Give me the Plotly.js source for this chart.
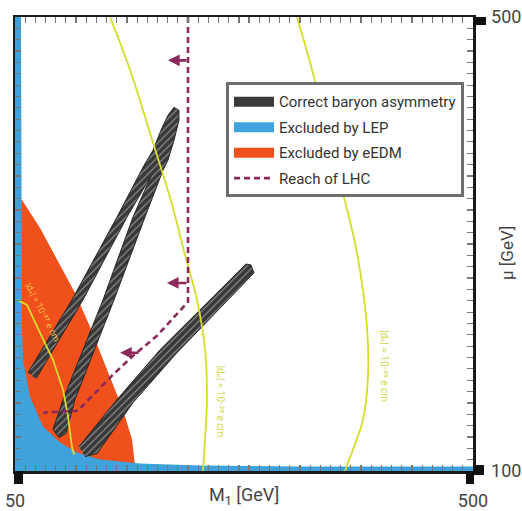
<!DOCTYPE html>
<html><head><meta charset="utf-8">
<script src="https://cdn.plot.ly/plotly-3.0.1.min.js"></script>
<style>html,body{margin:0;padding:0;background:#fff}#chart{width:522px;height:511px}</style>
</head><body><div id="chart"></div>
<script>
// ---- axes ----
const xRange = [50, 500];
const yRange = [100, 500];
const xLabelVals = [50, 500];
const xLabelText = ['50', '500'];
const yLabelVals = [100, 500];
const yLabelText = ['100', '500'];
const tickStep = 10;

// ---- Excluded by LEP (M1 [GeV], mu [GeV]) ----
const lepM1 = [50, 55.9, 56.9, 57.9, 64.7, 77.5, 94.2, 110.9, 133.5, 172.8, 231.8, 330, 500, 500, 50];
const lepMu = [500, 500, 224.4, 198.0, 165.5, 139.1, 125.1, 116.3, 110.1, 106.6, 104.8, 103.9, 103.9, 100, 100];

// ---- Excluded by eEDM ----
const edmM1 = [50, 56.9, 74.6, 91.3, 109.0, 123.7, 143.3, 156.1, 165.0, 167.9, 168.5, 50];
const edmMu = [338.7, 338.7, 314.1, 286.0, 256.9, 227.0, 183.1, 154.0, 127.7, 105.7, 100, 100];

// ---- Correct baryon asymmetry: forked band ----
const forkM1 = [62.8, 106.0, 150.2, 175.8, 185.6, 193.4, 200.3, 206.2, 211.1, 211.1, 206.2, 200.3, 195.4, 177.7, 147.3, 108.9, 100.1, 93.2, 87.3, 97.2, 136.5, 165.9, 183.6, 160.0, 116.8, 76.5, 70.6];
const forkMu = [186.6, 250.8, 323.7, 367.7, 382.6, 400.2, 413.4, 420.4, 417.8, 409.0, 391.4, 373.9, 365.0, 323.7, 250.8, 162.9, 133.0, 129.5, 136.5, 162.9, 250.8, 323.7, 359.8, 323.7, 250.8, 191.0, 181.3];
// ---- Correct baryon asymmetry: lower band ----
const lowM1 = [112.9, 150.2, 192.5, 277.0, 281.9, 284.8, 208.2, 165.9, 130.6, 118.8];
const lowMu = [121.5, 162.9, 206.8, 282.4, 281.5, 274.5, 203.3, 160.2, 115.4, 112.7];

// ---- Reach of LHC ----
const lhcM1 = [220.0, 220.0, 189.5, 165.9, 145.3, 125.7, 111.9, 77.5];
const lhcMu = [500, 249.0, 219.1, 201.5, 184.0, 166.4, 153.2, 151.4];
const arrowHeadM1 = [200.3, 199.3, 153.2];
const arrowTailM1 = [220.0, 220.0, 172.8];
const arrowMu = [461.8, 265.7, 204.2];

// ---- EDM contours ----
const cAM1 = [52.0, 61.8, 74.6, 87.3, 97.2, 102.1, 106.0, 108.0];
const cAMu = [250.8, 246.4, 221.8, 198.0, 171.6, 147.9, 120.7, 114.5];
const cBM1 = [143.3, 163.0, 185.6, 204.3, 217.0, 228.8, 236.7, 238.6, 236.7, 234.7];
const cBMu = [500, 453.5, 389.3, 334.8, 290.3, 250.8, 206.8, 162.9, 127.7, 100];
const cCM1 = [327.1, 344.8, 372.3, 386.0, 395.8, 396.8, 391.9, 382.1, 374.2];
const cCMu = [500, 443.7, 344.8, 292.1, 227.0, 183.1, 145.3, 118.9, 100];
const contourLabels = ['|dₑ| = 10⁻²⁷ e cm', '|dₑ| = 10⁻²⁸ e cm', '|dₑ| = 10⁻²⁹ e cm'];
const labelM1 = [77.5, 251.4, 413.5];
const labelMu = [239.3, 161.1, 192.3];
const labelAngle = [63, 90, 90];

const legendNames = ['Correct baryon asymmetry', 'Excluded by LEP', 'Excluded by eEDM', 'Reach of LHC'];

const C_ORANGE = '#f0501c', C_BLUE = '#3fa2dc', C_YEL = '#d6dc2e', C_LHC = '#8c2a5c', C_BAU = '#3a3a3a';
const FONT = 'Roboto, "DejaVu Sans", sans-serif';

const bauM1 = forkM1.concat([null], lowM1);
const bauMu = forkMu.concat([null], lowMu);

// tick positions every 10 GeV; labels only at the ends
function ticks(range, labVals, labText) {
  const v = [], t = [];
  for (let a = range[0]; a <= range[1]; a += tickStep) {
    v.push(a);
    const k = labVals.indexOf(a);
    t.push(k >= 0 ? labText[k] : '');
  }
  return {v, t};
}
const xt = ticks(xRange, xLabelVals, xLabelText);
const yt = ticks(yRange, yLabelVals, yLabelText);

const traces = [
  {x: edmM1, y: edmMu, type: 'scatter', mode: 'lines', fill: 'toself', fillcolor: C_ORANGE,
   line: {width: 0, color: C_ORANGE}, showlegend: false, legendgroup: 'edm', hoverinfo: 'skip'},
  {x: lepM1, y: lepMu, type: 'scatter', mode: 'lines', fill: 'toself', fillcolor: C_BLUE,
   line: {width: 0, color: C_BLUE}, showlegend: false, legendgroup: 'lep', hoverinfo: 'skip'},
  {x: bauM1, y: bauMu, type: 'scatter', mode: 'lines', fill: 'toself', fillcolor: C_BAU,
   fillpattern: {shape: '/', bgcolor: '#383838', fgcolor: '#8a8a8a', size: 5, solidity: 0.25},
   line: {width: 1, color: '#262626'}, showlegend: false, legendgroup: 'bau', hoverinfo: 'skip'},
  {x: cAM1, y: cAMu, type: 'scatter', mode: 'lines', line: {color: C_YEL, width: 1.8}, showlegend: false, hoverinfo: 'skip'},
  {x: cBM1, y: cBMu, type: 'scatter', mode: 'lines', line: {color: C_YEL, width: 1.8, shape: 'spline'}, showlegend: false, hoverinfo: 'skip'},
  {x: cCM1, y: cCMu, type: 'scatter', mode: 'lines', line: {color: C_YEL, width: 1.8, shape: 'spline'}, showlegend: false, hoverinfo: 'skip'},
  {x: lhcM1, y: lhcMu, type: 'scatter', mode: 'lines', line: {color: C_LHC, width: 2.6, dash: '6px,4px'},
   name: legendNames[3], legendgroup: 'lhc', legendrank: 4, hoverinfo: 'skip'},
  // legend keys (box-like swatches) for the filled regions
  {x: [null], y: [null], type: 'scatter', mode: 'lines', line: {color: C_BAU, width: 15},
   name: legendNames[0], legendgroup: 'bau', legendrank: 1, hoverinfo: 'skip'},
  {x: [null], y: [null], type: 'scatter', mode: 'lines', line: {color: C_BLUE, width: 15},
   name: legendNames[1], legendgroup: 'lep', legendrank: 2, hoverinfo: 'skip'},
  {x: [null], y: [null], type: 'scatter', mode: 'lines', line: {color: C_ORANGE, width: 15},
   name: legendNames[2], legendgroup: 'edm', legendrank: 3, hoverinfo: 'skip'}
];

const annotations = [];
for (let i = 0; i < arrowMu.length; i++) {
  annotations.push({x: arrowHeadM1[i], y: arrowMu[i], ax: arrowTailM1[i], ay: arrowMu[i],
    xref: 'x', yref: 'y', axref: 'x', ayref: 'y', text: '', showarrow: true,
    arrowhead: 2, arrowsize: 0.9, arrowwidth: 2.6, arrowcolor: C_LHC});
}
for (let i = 0; i < contourLabels.length; i++) {
  annotations.push({x: labelM1[i], y: labelMu[i], xref: 'x', yref: 'y', text: contourLabels[i],
    showarrow: false, textangle: labelAngle[i],
    font: {family: FONT, size: i === 0 ? 9 : 10, color: i === 0 ? '#f7c24a' : '#d2d84a'}});
}
annotations.push({x: 0.5, y: 0, xref: 'paper', yref: 'paper', yshift: -25, yanchor: 'middle',
  text: 'M<sub>1</sub> [GeV]', showarrow: false, font: {family: FONT, size: 18, color: '#444'}});
annotations.push({x: 1, y: 0.5, xref: 'paper', yref: 'paper', xshift: 34, xanchor: 'center', yshift: -9,
  text: 'μ [GeV]', textangle: -90, showarrow: false, font: {family: FONT, size: 17, color: '#444'}});

// heavy end-ticks (black squares) at the labelled axis extremes
function sq(xa, ya, x0, x1, y0, y1) {
  return {type: 'rect', xref: 'paper', yref: 'paper', xsizemode: 'pixel', ysizemode: 'pixel',
    xanchor: xa, yanchor: ya, x0: x0, x1: x1, y0: y0, y1: y1,
    fillcolor: '#111', line: {width: 0}, layer: 'above'};
}
const shapes = [
  sq(0, 0, -1, 8, 0, -13),
  sq(1, 0, -7, 1, 0, -13),
  sq(1, 0, 0, 11, -4, 6),
  sq(1, 1, 0, 13, 0, -8)
];

const layout = {
  width: 522, height: 511,
  margin: {l: 15, r: 49, t: 16.5, b: 39.5},
  paper_bgcolor: '#fff', plot_bgcolor: '#fff',
  showlegend: true,
  legend: {x: 0.4607, y: 0.856, xanchor: 'left', yanchor: 'top', bgcolor: '#fff',
    bordercolor: '#6e6e6e', borderwidth: 3, itemwidth: 40, traceorder: 'grouped', tracegroupgap: 3,
    font: {family: FONT, size: 15, color: '#333'}},
  xaxis: {range: xRange, tickmode: 'array', tickvals: xt.v, ticktext: xt.t,
    ticks: 'inside', ticklen: 6, tickwidth: 1.2, tickcolor: '#777', ticklabelstandoff: 12,
    showline: true, linewidth: 2.5, linecolor: '#1a1a1a', mirror: 'allticks',
    showgrid: false, zeroline: false, fixedrange: true,
    tickfont: {family: FONT, size: 18, color: '#444'}},
  yaxis: {range: yRange, side: 'right', tickmode: 'array', tickvals: yt.v, ticktext: yt.t,
    ticks: 'inside', ticklen: 6, tickwidth: 1.2, tickcolor: '#777', ticklabelstandoff: 12,
    showline: true, linewidth: 2.5, linecolor: '#1a1a1a', mirror: 'allticks',
    showgrid: false, zeroline: false, fixedrange: true,
    tickfont: {family: FONT, size: 18, color: '#444'}},
  shapes: shapes,
  annotations: annotations
};

Plotly.newPlot('chart', traces, layout, {displayModeBar: false, staticPlot: true});
</script>
</body></html>
